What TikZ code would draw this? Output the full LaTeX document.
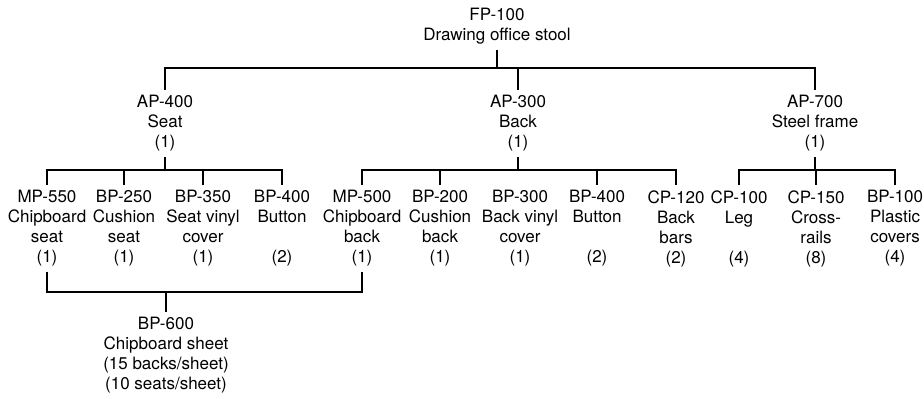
\documentclass[tikz,border=0pt]{standalone}
\usepackage{fontspec}
\setmainfont{TeX Gyre Heros}
\usepackage{tikz}
\usetikzlibrary{calc}

\begin{document}
\begin{tikzpicture}[x=0.5pt, y=-0.5pt,
		part/.style={align=center, anchor=north, inner xsep=0pt, inner ysep=2.5pt,
			font=\fontsize{8.5}{10}\selectfont},
		link/.style={line width=1pt}]
		\useasboundingbox (0,0) rectangle (924,399);
		
		% 横线高度
		\coordinate (bar0) at (0,68);
		\coordinate (bar1) at (0,170);
		\coordinate (bar2) at (0,292);
		
		% 成品
		\node[part] (fp100) at (497,3) {FP-100\\Drawing office stool};
		
		% 组件
		\node[part] (ap400) at (165,90) {AP-400\\Seat\\(1)};
		\node[part] (ap300) at (518,90) {AP-300\\Back\\(1)};
		\node[part] (ap700) at (815,90) {AP-700\\Steel frame\\(1)};
		
		% 零件
		\node[part] (mp550) at (47,185) {MP-550\\Chipboard\\seat\\(1)};
		\node[part] (bp250) at (124,185) {BP-250\\Cushion\\seat\\(1)};
		\node[part] (bp350) at (203,185) {BP-350\\Seat vinyl\\cover\\(1)};
		\node[part] (bp400a) at (282,185) {BP-400\\Button\\~\\(2)};
		\node[part] (mp500) at (362,185) {MP-500\\Chipboard\\back\\(1)};
		\node[part] (bp200) at (440,185) {BP-200\\Cushion\\back\\(1)};
		\node[part] (bp300) at (520,185) {BP-300\\Back vinyl\\cover\\(1)};
		\node[part] (bp400b) at (597,185) {BP-400\\Button\\~\\(2)};
		\node[part] (cp120) at (676,185) {CP-120\\Back\\bars\\(2)};
		\node[part] (cp100) at (739,185) {CP-100\\Leg\\~\\(4)};
		\node[part] (cp150) at (816,185) {CP-150\\Cross-\\rails\\(8)};
		\node[part] (bp100) at (895,185) {BP-100\\Plastic\\covers\\(4)};
		
		% 原料
		\node[part] (bp600) at (166,312) {BP-600\\Chipboard sheet\\(15 backs/sheet)\\(10 seats/sheet)};
		
		% 第一层
		\draw[link] (fp100.south) -- (fp100.south |- bar0);
		\draw[link] (ap400.north) |- (ap700.north |- bar0) -- (ap700.north);
		\draw[link] (ap300.north) -- (ap300.north |- bar0);
		
		% 第二层
		\draw[link] (ap400.south) -- (ap400.south |- bar1);
		\draw[link] (mp550.north) |- (bp400a.north |- bar1) -- (bp400a.north);
		\draw[link] (bp250.north) -- (bp250.north |- bar1);
		\draw[link] (bp350.north) -- (bp350.north |- bar1);
		
		\draw[link] (ap300.south) -- (ap300.south |- bar1);
		\draw[link] (mp500.north) |- (cp120.north |- bar1) -- (cp120.north);
		\draw[link] (bp200.north) -- (bp200.north |- bar1);
		\draw[link] (bp400b.north) -- (bp400b.north |- bar1);
		
		\draw[link] (ap700.south) -- (ap700.south |- bar1);
		\draw[link] (cp100.north) |- (bp100.north |- bar1) -- (bp100.north);
		\draw[link] (cp150.north) -- (cp150.north |- bar1);
		
		% 第三层
		\draw[link] (mp550.south) |- (mp500.south |- bar2) -- (mp500.south);
		\draw[link] (bp600.north) -- (bp600.north |- bar2);
	\end{tikzpicture}
\end{document}
